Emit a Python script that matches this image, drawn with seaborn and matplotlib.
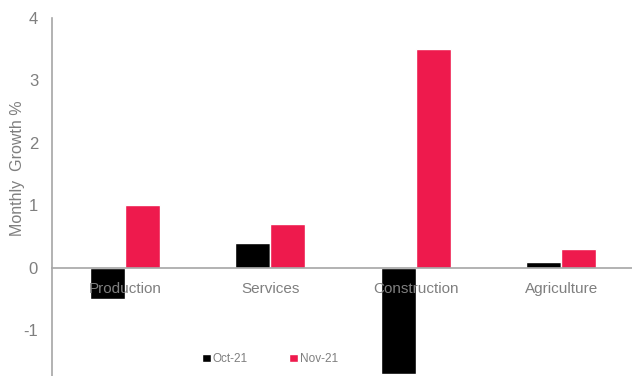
import numpy as np
import pandas as pd
import matplotlib
matplotlib.use('Agg')
import matplotlib.pyplot as plt
import seaborn as sns

# data
sectors = ['Production', 'Services', 'Construction', 'Agriculture']
oct_21 = [-0.5, 0.4, -1.7, 0.1]
nov_21 = [1.0, 0.7, 3.5, 0.3]

df = pd.DataFrame({'sector': sectors * 2,
                   'month': ['Oct-21'] * 4 + ['Nov-21'] * 4,
                   'growth': oct_21 + nov_21})

sns.set_style('white')
plt.rcParams['font.family'] = ['Liberation Sans', 'DejaVu Sans']

grey_text = '#7f7f7f'
grey_axis = '#a6a6a6'

fig = plt.figure(figsize=(6.32, 3.76), dpi=100)
ax = fig.add_axes([52/632, 0, 582/632, 1 - 18/376])

sns.barplot(data=df, x='sector', y='growth', hue='month',
            palette={'Oct-21': '#000000', 'Nov-21': '#ee1a4d'},
            width=0.48, gap=0, saturation=1, ax=ax, legend=True)

ax.set_ylim(-1.73, 4)
ax.set_xlim(-0.5, 3.5)
ax.set_yticks([-1, 0, 1, 2, 3, 4])
ax.set_yticklabels(['-1', '0', '1', '2', '3', '4'])
ax.set_axisbelow(False)  # category labels sit on top of the bars

# spines
for s in ['top', 'right']:
    ax.spines[s].set_visible(False)
ax.spines['bottom'].set_position(('data', 0))
ax.spines['bottom'].set_color(grey_axis)
ax.spines['left'].set_color(grey_axis)
ax.spines['left'].set_linewidth(1.2)
ax.spines['bottom'].set_linewidth(1.2)

# category ticks between groups
ax.set_xticks([0.5, 1.5, 2.5], minor=True)
ax.tick_params(axis='x', which='minor', length=4, color=grey_axis, direction='out')
ax.tick_params(axis='x', which='major', length=0, labelsize=11, labelcolor=grey_text, pad=10)
ax.tick_params(axis='y', which='major', length=4, color=grey_axis, direction='out',
               labelsize=12, labelcolor=grey_text, pad=6)

ax.set_xlabel('')
ax.set_ylabel('Monthly  Growth %', color=grey_text, fontsize=11.5)
ax.yaxis.set_label_coords(-0.046, 0.58)

leg = ax.legend(loc='lower left', bbox_to_anchor=(0.24, 0.0), ncol=2, frameon=False,
                fontsize=8.5, handlelength=0.7, handleheight=0.7, handletextpad=0.2,
                columnspacing=3.5)
for t in leg.get_texts():
    t.set_color(grey_text)

fig.savefig('out.png', dpi=100)
